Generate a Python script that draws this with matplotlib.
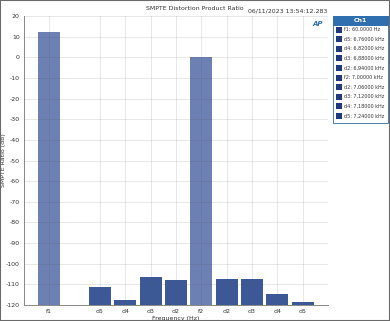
import numpy as np
import matplotlib.pyplot as plt
from matplotlib.patches import Rectangle

# ------- Daten ----------------
labels = ['f1', '', 'd5', 'd4', 'd3', 'd2', 'f2', 'd2', 'd3', 'd4', 'd5']
values = [12.1, np.nan, -111.4, -117.4, -106.4, -107.9, 0.0, -107.4, -107.4, -114.7, -118.7]
is_fund = [True, False, False, False, False, False, True, False, False, False, False]
legend_labels = ['f1: 60,0000 Hz', 'd5: 6,76000 kHz', 'd4: 6,82000 kHz', 'd3: 6,88000 kHz',
                 'd2: 6,94000 kHz', 'f2: 7,00000 kHz', 'd2: 7,06000 kHz', 'd3: 7,12000 kHz',
                 'd4: 7,18000 kHz', 'd5: 7,24000 kHz']
yticks = np.arange(-120, 21, 10)

W, H = 390, 321
fig = plt.figure(figsize=(W / 100, H / 100), dpi=100)
fig.patch.set_facecolor('white')

def px(x0, y0, w, h):
    return [x0 / W, 1 - (y0 + h) / H, w / W, h / H]

ax = fig.add_axes(px(24, 16, 304, 289))
x = np.arange(len(labels))
col_f = '#6d80b4'
col_d = '#3d5896'
cols = [col_f if f else col_d for f in is_fund]
vals = np.array(values, dtype=float)
ax.bar(x, vals + 120, bottom=-120, width=0.86, color=cols, zorder=2)

ax.set_xlim(-1, 11)
ax.set_ylim(-120, 20)
tick_pos = [i for i, l in enumerate(labels) if l]
ax.set_xticks(tick_pos)
ax.set_xticklabels([labels[i] for i in tick_pos])
ax.set_yticks(yticks)
ax.set_yticklabels([str(v) for v in yticks])
ax.tick_params(labelsize=4.5, length=0, pad=3, colors='#333333')
ax.grid(True, color='#5a5a5a', alpha=0.15, linewidth=0.7, zorder=3)
ax.set_axisbelow(False)
for s in ['top', 'right']:
    ax.spines[s].set_visible(False)
for s in ['left', 'bottom']:
    ax.spines[s].set_color('#888888')
    ax.spines[s].set_linewidth(0.7)
ax.set_xlabel('Frequency (Hz)', fontsize=4.5, labelpad=1, color='#333333')
ax.set_ylabel('SMPTE Ratio (dB)', fontsize=4.5, color='#333333')
ax.yaxis.set_label_coords((6 - 24) / 304, 0.5)

# Titel, Zeitstempel, Logo
fig.text(0.5, 1 - 8 / H, 'SMPTE Distortion Product Ratio', ha='center', va='center',
         fontsize=4.5, color='#333333')
fig.text(327 / W, 1 - 11 / H, '06/11/2023 13:54:12.283', ha='right', va='center',
         fontsize=4.5, color='#333333')
fig.text(318 / W, 1 - 24 / H, 'AP', ha='center', va='center', fontsize=5,
         fontweight='bold', style='italic', color='#2f6fb0')

# Legende (Ch1)
lx, ly, lw, lh = 333, 16, 55, 107
fig.patches.append(Rectangle((lx / W, 1 - (ly + lh) / H), lw / W, lh / H,
                             transform=fig.transFigure, facecolor='white',
                             edgecolor='#4a7fb8', linewidth=0.7))
fig.patches.append(Rectangle((lx / W, 1 - (ly + 9) / H), lw / W, 9 / H,
                             transform=fig.transFigure, facecolor='#2f6fb0',
                             edgecolor='#2f6fb0', linewidth=0.7))
fig.text((lx + lw / 2) / W, 1 - (ly + 4.5) / H, 'Ch1', ha='center', va='center',
         fontsize=4.5, color='white', fontweight='bold')
for i, lab in enumerate(legend_labels):
    yy = ly + 13.5 + i * 9.6
    fig.patches.append(Rectangle(((lx + 3) / W, 1 - (yy + 3) / H), 6 / W, 6 / H,
                                 transform=fig.transFigure, facecolor='#1f3a7a',
                                 edgecolor='none'))
    fig.text((lx + 10.5) / W, 1 - yy / H, lab, ha='left', va='center',
             fontsize=3.5, color='#333333')

# Rahmen
fig.patches.append(Rectangle((0, 0), 1, 1, transform=fig.transFigure, fill=False,
                             edgecolor='#6a6a6a', linewidth=1.5))

fig.savefig('out.png', dpi=100)
